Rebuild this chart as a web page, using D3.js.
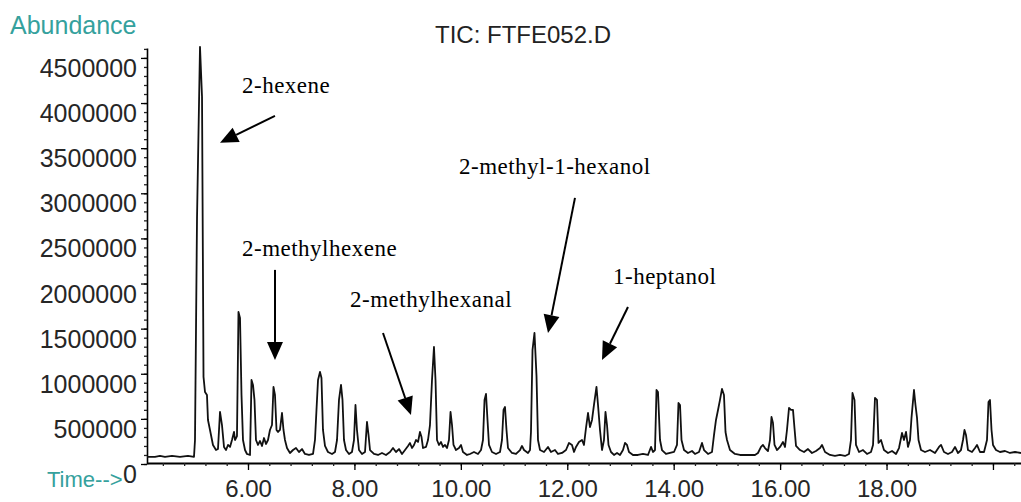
<!DOCTYPE html>
<html>
<head>
<meta charset="utf-8">
<script src="https://cdn.jsdelivr.net/npm/d3@7"></script>
<style>
  html, body { margin: 0; padding: 0; background: #fff; }
  svg { display: block; }
</style>
</head>
<body>
<svg id="chart" width="1021" height="502"></svg>
<script>
// Total ion chromatogram: retention time (min) and abundance at each vertex of the trace
const retentionTime = [
  4.102, 4.252, 4.346, 4.440, 4.572, 4.722, 4.872, 4.985, 5.004, 5.042,
  5.098, 5.136, 5.164, 5.192, 5.229, 5.248, 5.286, 5.342, 5.399, 5.436,
  5.474, 5.511, 5.549, 5.587, 5.624, 5.662, 5.699, 5.737, 5.756, 5.793,
  5.821, 5.850, 5.878, 5.906, 5.944, 5.981, 6.038, 6.066, 6.094, 6.122,
  6.150, 6.188, 6.226, 6.263, 6.301, 6.338, 6.376, 6.413, 6.451, 6.479,
  6.507, 6.536, 6.564, 6.601, 6.639, 6.667, 6.695, 6.733, 6.789, 6.846,
  6.902, 6.958, 7.015, 7.071, 7.146, 7.222, 7.259, 7.287, 7.316, 7.353,
  7.381, 7.409, 7.447, 7.503, 7.579, 7.635, 7.673, 7.710, 7.748, 7.776,
  7.804, 7.842, 7.898, 7.954, 7.992, 8.020, 8.048, 8.086, 8.142, 8.199,
  8.236, 8.265, 8.293, 8.368, 8.443, 8.518, 8.593, 8.669, 8.725, 8.781,
  8.838, 8.894, 8.951, 9.007, 9.044, 9.082, 9.120, 9.157, 9.195, 9.232,
  9.261, 9.289, 9.345, 9.383, 9.420, 9.458, 9.495, 9.524, 9.552, 9.589,
  9.627, 9.665, 9.702, 9.740, 9.777, 9.806, 9.834, 9.862, 9.909, 9.965,
  10.003, 10.040, 10.116, 10.172, 10.247, 10.322, 10.379, 10.416, 10.445, 10.473,
  10.501, 10.529, 10.585, 10.661, 10.736, 10.773, 10.802, 10.830, 10.858, 10.886,
  10.961, 11.037, 11.112, 11.149, 11.187, 11.262, 11.300, 11.318, 11.347, 11.384,
  11.422, 11.450, 11.488, 11.563, 11.638, 11.694, 11.769, 11.826, 11.901, 11.976,
  12.033, 12.089, 12.127, 12.164, 12.220, 12.277, 12.314, 12.352, 12.390, 12.427,
  12.465, 12.502, 12.549, 12.578, 12.615, 12.653, 12.690, 12.718, 12.747, 12.775,
  12.822, 12.878, 12.935, 12.991, 13.047, 13.085, 13.123, 13.160, 13.235, 13.329,
  13.423, 13.517, 13.574, 13.611, 13.649, 13.677, 13.705, 13.743, 13.780, 13.855,
  13.931, 14.006, 14.062, 14.090, 14.119, 14.147, 14.194, 14.269, 14.344, 14.400,
  14.476, 14.532, 14.570, 14.645, 14.720, 14.758, 14.795, 14.833, 14.870, 14.908,
  14.945, 14.974, 15.002, 15.058, 15.152, 15.246, 15.340, 15.434, 15.528, 15.584,
  15.641, 15.678, 15.716, 15.772, 15.810, 15.838, 15.866, 15.895, 15.942, 15.998,
  16.054, 16.092, 16.129, 16.167, 16.205, 16.242, 16.270, 16.299, 16.374, 16.449,
  16.524, 16.599, 16.674, 16.750, 16.787, 16.844, 16.938, 17.031, 17.125, 17.219,
  17.295, 17.332, 17.360, 17.398, 17.426, 17.483, 17.558, 17.633, 17.708, 17.746,
  17.783, 17.821, 17.849, 17.896, 17.952, 18.028, 18.103, 18.178, 18.234, 18.291,
  18.328, 18.366, 18.403, 18.441, 18.469, 18.516, 18.544, 18.573, 18.601, 18.648,
  18.723, 18.817, 18.911, 18.986, 19.024, 19.080, 19.155, 19.230, 19.287, 19.343,
  19.399, 19.437, 19.465, 19.493, 19.531, 19.606, 19.663, 19.700, 19.756, 19.832,
  19.888, 19.916, 19.944, 19.973, 20.001, 20.057, 20.132, 20.226, 20.320, 20.414,
  20.527
];

const abundance = [
  78000, 78000, 89000, 78000, 89000, 78000, 89000, 78000, 266000, 2727000,
  4623000, 4069000, 965000, 798000, 765000, 488000, 377000, 211000, 155000, 166000,
  577000, 432000, 189000, 155000, 211000, 189000, 266000, 355000, 266000, 310000,
  1685000, 1619000, 765000, 266000, 155000, 111000, 100000, 931000, 876000, 710000,
  266000, 211000, 255000, 200000, 288000, 222000, 266000, 377000, 432000, 854000,
  765000, 377000, 355000, 377000, 565000, 377000, 266000, 177000, 122000, 155000,
  177000, 133000, 166000, 111000, 100000, 111000, 266000, 599000, 931000, 1020000,
  953000, 377000, 200000, 133000, 111000, 133000, 266000, 710000, 876000, 710000,
  266000, 155000, 111000, 133000, 266000, 654000, 377000, 155000, 111000, 133000,
  466000, 322000, 155000, 111000, 100000, 122000, 100000, 133000, 177000, 133000,
  166000, 111000, 155000, 200000, 233000, 177000, 211000, 266000, 244000, 355000,
  299000, 177000, 189000, 266000, 432000, 931000, 1297000, 931000, 266000, 211000,
  244000, 189000, 211000, 177000, 266000, 577000, 432000, 211000, 155000, 177000,
  211000, 133000, 100000, 111000, 133000, 111000, 155000, 266000, 710000, 776000,
  488000, 211000, 133000, 111000, 133000, 266000, 599000, 632000, 377000, 177000,
  122000, 111000, 155000, 200000, 155000, 122000, 155000, 355000, 1264000, 1452000,
  976000, 266000, 155000, 133000, 189000, 133000, 155000, 111000, 122000, 155000,
  233000, 211000, 133000, 189000, 244000, 266000, 211000, 399000, 565000, 410000,
  488000, 654000, 854000, 654000, 377000, 155000, 266000, 577000, 432000, 211000,
  133000, 100000, 122000, 100000, 155000, 233000, 211000, 133000, 100000, 100000,
  111000, 100000, 189000, 133000, 155000, 820000, 798000, 266000, 155000, 111000,
  122000, 133000, 211000, 676000, 654000, 266000, 155000, 122000, 144000, 111000,
  133000, 233000, 155000, 111000, 133000, 322000, 488000, 599000, 710000, 832000,
  765000, 355000, 266000, 155000, 111000, 100000, 100000, 100000, 100000, 122000,
  189000, 211000, 177000, 144000, 266000, 521000, 455000, 211000, 155000, 189000,
  244000, 189000, 377000, 621000, 599000, 599000, 399000, 200000, 155000, 133000,
  166000, 122000, 144000, 177000, 211000, 133000, 100000, 89000, 100000, 89000,
  111000, 266000, 787000, 710000, 211000, 133000, 155000, 111000, 133000, 211000,
  732000, 710000, 233000, 266000, 155000, 122000, 144000, 111000, 177000, 344000,
  266000, 355000, 189000, 266000, 510000, 820000, 654000, 510000, 266000, 155000,
  133000, 155000, 122000, 189000, 211000, 133000, 111000, 133000, 189000, 122000,
  155000, 266000, 377000, 322000, 155000, 133000, 177000, 211000, 133000, 133000,
  266000, 687000, 710000, 377000, 211000, 155000, 133000, 144000, 122000, 133000,
  122000
];

// Axis ticks
const yTickValues = [0, 500000, 1000000, 1500000, 2000000, 2500000, 3000000, 3500000, 4000000, 4500000];
const yTickLabels = ["0", "500000", "1000000", "1500000", "2000000", "2500000", "3000000", "3500000", "4000000", "4500000"];
const xTickValues = [6, 8, 10, 12, 14, 16, 18, 20];
const xTickLabels = ["6.00", "8.00", "10.00", "12.00", "14.00", "16.00", "18.00", ""];

// Peak annotations: name, label anchor (time, abundance), arrow tail and arrow head
const peakNames = ["2-hexene", "2-methylhexene", "2-methylhexanal", "2-methyl-1-hexanol", "1-heptanol"];
const labelTime = [5.887, 5.887, 7.917, 9.965, 12.859];
const labelAbundance = [4115000, 2306000, 1740000, 3215000, 1995000];
const arrowFromTime = [6.507, 6.507, 8.537, 12.145, 13.141];
const arrowFromAbundance = [3858000, 2151000, 1452000, 2949000, 1740000];
const arrowToTime = [5.474, 6.507, 9.063, 11.638, 12.653];
const arrowToAbundance = [3559000, 1153000, 543000, 1452000, 1153000];

const svg = d3.select("#chart");
const W = 1021, H = 502;
const plot = { left: 147, right: 1021, top: 48, bottom: 464 };
const teal = "#35a19d";
const sans = "'Liberation Sans', Arial, sans-serif";
const serif = "'Liberation Serif', 'Times New Roman', serif";

const x = d3.scaleLinear().domain([4.102, 20.527]).range([plot.left, plot.right]);
const y = d3.scaleLinear().domain([0, 4610000]).range([plot.bottom, plot.top]);

svg.append("rect").attr("width", W).attr("height", H).attr("fill", "#fff");

// Y axis: minor ticks every 100000, labelled major ticks every 500000
const yMinor = svg.append("g").attr("transform", `translate(${plot.left},0)`)
  .call(d3.axisLeft(y).tickValues(d3.range(0, 4600001, 100000)).tickSize(3).tickSizeOuter(0).tickFormat(""));
yMinor.select(".domain").attr("stroke", "#000").attr("stroke-width", 1.6);
yMinor.selectAll(".tick line").attr("stroke", "#222").attr("stroke-width", 1.3);

const yMajor = svg.append("g").attr("transform", `translate(${plot.left},0)`)
  .call(d3.axisLeft(y).tickValues(yTickValues).tickSize(6).tickSizeOuter(0).tickPadding(4)
    .tickFormat((d, i) => yTickLabels[i]));
yMajor.select(".domain").remove();
yMajor.selectAll(".tick line").attr("stroke", "#000").attr("stroke-width", 1.3);
yMajor.selectAll(".tick text")
  .attr("dy", "0.74em")
  .attr("fill", "#262626")
  .style("font-family", sans)
  .style("font-size", "25px");

// X axis: minor ticks every 0.4 min, labelled major ticks every 2 min
const xBase = 463;
const xMinor = svg.append("g").attr("transform", `translate(0,${xBase})`)
  .call(d3.axisBottom(x).tickValues(d3.range(4.4, 20.5, 0.4)).tickSize(3).tickSizeOuter(0).tickFormat(""));
xMinor.select(".domain").attr("stroke", "#000").attr("stroke-width", 2);
xMinor.selectAll(".tick line").attr("stroke", "#222").attr("stroke-width", 1.3);

const xMajor = svg.append("g").attr("transform", `translate(0,${xBase})`)
  .call(d3.axisBottom(x).tickValues(xTickValues).tickSize(7).tickSizeOuter(0).tickPadding(10)
    .tickFormat((d, i) => xTickLabels[i]));
xMajor.select(".domain").remove();
xMajor.selectAll(".tick line").attr("stroke", "#000").attr("stroke-width", 1.3);
xMajor.selectAll(".tick text")
  .attr("fill", "#262626")
  .style("font-family", sans)
  .style("font-size", "24px");

// Trace
const trace = retentionTime.map((t, i) => [t, abundance[i]]);
svg.append("path")
  .datum(trace)
  .attr("fill", "none")
  .attr("stroke", "#111")
  .attr("stroke-width", 1.8)
  .attr("stroke-linejoin", "round")
  .attr("d", d3.line().x(d => x(d[0])).y(d => y(d[1])));

// Titles
svg.append("text").attr("x", 10).attr("y", 34).text("Abundance")
  .attr("fill", teal).style("font-family", sans).style("font-size", "25px");
svg.append("text").attr("x", 47).attr("y", 487).text("Time-->")
  .attr("fill", teal).style("font-family", sans).style("font-size", "22px");
svg.append("text").attr("x", 523).attr("y", 43).attr("text-anchor", "middle").text("TIC: FTFE052.D")
  .attr("fill", "#222").style("font-family", sans).style("font-size", "24px");

// Peak labels with arrows
const ann = svg.append("g");
peakNames.forEach((name, i) => {
  ann.append("text")
    .attr("x", x(labelTime[i])).attr("y", y(labelAbundance[i]))
    .text(name)
    .attr("fill", "#000")
    .style("font-family", serif)
    .style("font-size", "23px")
    .style("letter-spacing", "0.5px");

  const x0 = x(arrowFromTime[i]), y0 = y(arrowFromAbundance[i]);
  const x1 = x(arrowToTime[i]), y1 = y(arrowToAbundance[i]);
  const ang = Math.atan2(y1 - y0, x1 - x0);
  const headLen = 18, headHalf = 8;
  const bx = x1 - headLen * Math.cos(ang), by = y1 - headLen * Math.sin(ang);
  ann.append("line")
    .attr("x1", x0).attr("y1", y0).attr("x2", bx).attr("y2", by)
    .attr("stroke", "#000").attr("stroke-width", 2);
  const px = -Math.sin(ang) * headHalf, py = Math.cos(ang) * headHalf;
  ann.append("path")
    .attr("d", `M${x1},${y1}L${bx + px},${by + py}L${bx - px},${by - py}Z`)
    .attr("fill", "#000");
});
</script>
</body>
</html>
